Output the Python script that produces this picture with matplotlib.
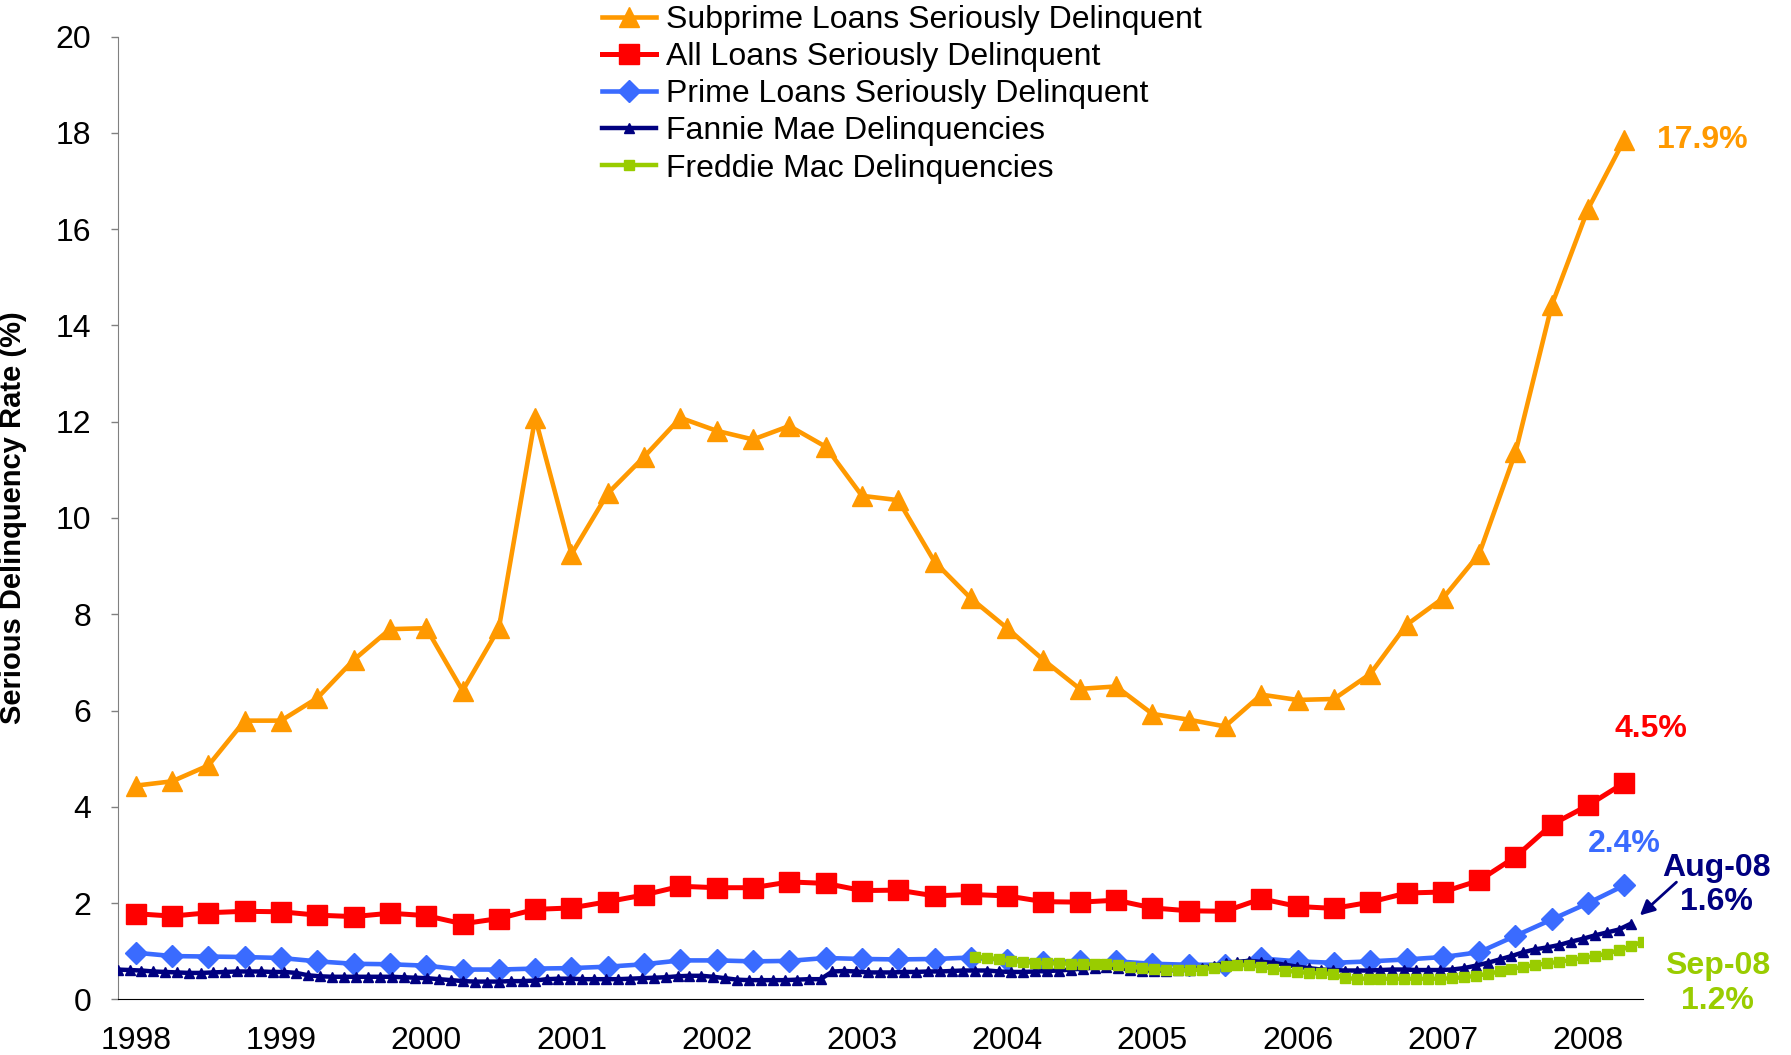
import numpy as np
import matplotlib
matplotlib.use("Agg")
import matplotlib.pyplot as plt

plt.rcParams['font.family'] = ['Liberation Sans Narrow', 'Liberation Sans', 'DejaVu Sans']

# quarterly series, 1998 Q1 .. 2008 Q2
years = list(range(1998, 2009))
subprime = [4.44, 4.53, 4.86, 5.79, 5.79, 6.26, 7.05, 7.69, 7.71, 6.41, 7.71, 12.08,
            9.25, 10.51, 11.27, 12.08, 11.81, 11.63, 11.91, 11.48, 10.46, 10.37, 9.09, 8.33,
            7.71, 7.05, 6.45, 6.50, 5.93, 5.81, 5.67, 6.33, 6.22, 6.24, 6.76, 7.78,
            8.33, 9.25, 11.36, 14.42, 16.42, 17.86]
all_loans = [1.78, 1.73, 1.80, 1.83, 1.82, 1.75, 1.72, 1.79, 1.74, 1.57, 1.68, 1.87,
             1.90, 2.03, 2.17, 2.35, 2.32, 2.32, 2.44, 2.41, 2.26, 2.27, 2.15, 2.18,
             2.15, 2.03, 2.02, 2.06, 1.90, 1.84, 1.83, 2.09, 1.93, 1.89, 2.02, 2.21,
             2.23, 2.47, 2.96, 3.63, 4.03, 4.50]
prime = [0.97, 0.90, 0.89, 0.88, 0.86, 0.79, 0.74, 0.73, 0.70, 0.62, 0.62, 0.64,
         0.65, 0.68, 0.73, 0.81, 0.81, 0.79, 0.80, 0.86, 0.84, 0.83, 0.84, 0.87,
         0.82, 0.78, 0.79, 0.79, 0.74, 0.72, 0.72, 0.85, 0.79, 0.76, 0.79, 0.83,
         0.88, 0.98, 1.32, 1.66, 2.00, 2.37]

# monthly series: Fannie Mae Jan 1998 .. Aug 2008, Freddie Mac Jan 2004 .. Sep 2008
fannie = [0.62, 0.61, 0.60, 0.58, 0.57, 0.56, 0.55, 0.55, 0.56, 0.57, 0.58, 0.58,
          0.58, 0.57, 0.57, 0.55, 0.50, 0.48, 0.47, 0.47, 0.47, 0.47, 0.47, 0.47,
          0.46, 0.45, 0.44, 0.42, 0.40, 0.38, 0.37, 0.37, 0.37, 0.38, 0.38, 0.39,
          0.42, 0.43, 0.43, 0.42, 0.42, 0.42, 0.42, 0.43, 0.44, 0.45, 0.46, 0.48,
          0.49, 0.49, 0.47, 0.44, 0.41, 0.40, 0.40, 0.40, 0.40, 0.41, 0.42, 0.42,
          0.58, 0.59, 0.58, 0.56, 0.56, 0.56, 0.57, 0.57, 0.58, 0.58, 0.59, 0.60,
          0.60, 0.60, 0.58, 0.57, 0.57, 0.58, 0.59, 0.60, 0.62, 0.64, 0.66, 0.67,
          0.65, 0.62, 0.60, 0.60, 0.60, 0.61, 0.62, 0.65, 0.70, 0.75, 0.78, 0.80,
          0.78, 0.76, 0.72, 0.68, 0.65, 0.62, 0.61, 0.60, 0.60, 0.60, 0.61, 0.62,
          0.62, 0.61, 0.61, 0.61, 0.62, 0.65, 0.70, 0.76, 0.83, 0.90, 0.98, 1.04,
          1.08, 1.13, 1.20, 1.26, 1.33, 1.39, 1.45, 1.57]
freddie = [0.89, 0.86, 0.83, 0.80, 0.78, 0.76, 0.75, 0.75, 0.74, 0.74, 0.73, 0.73,
           0.71, 0.68, 0.65, 0.63, 0.62, 0.61, 0.61, 0.62, 0.66, 0.70, 0.72, 0.71,
           0.68, 0.64, 0.60, 0.57, 0.55, 0.54, 0.53, 0.44, 0.43, 0.43, 0.43, 0.43,
           0.43, 0.43, 0.43, 0.43, 0.44, 0.46, 0.49, 0.53, 0.58, 0.63, 0.68, 0.71,
           0.75, 0.78, 0.82, 0.86, 0.90, 0.95, 1.02, 1.10, 1.20]
freddie_start = 72  # months after Jan 1998

ORANGE = '#FF9900'
RED = '#FF0000'
BLUE = '#3A6BFF'
NAVY = '#000080'
GREEN = '#99CC00'

fig = plt.figure(figsize=(17.91, 10.55), dpi=100)
ax = fig.add_axes([0.0657, 0.0527, 0.8514, 0.9127])

q = np.arange(len(subprime))
h1, = ax.plot(q, subprime, color=ORANGE, lw=3.3, marker='^', ms=14, mec=ORANGE,
              label='Subprime Loans Seriously Delinquent')
h2, = ax.plot(q, all_loans, color=RED, lw=3.6, marker='s', ms=14, mec=RED,
              label='All Loans Seriously Delinquent')
h3, = ax.plot(q, prime, color=BLUE, lw=3.3, marker='D', ms=11, mec=BLUE,
              label='Prime Loans Seriously Delinquent')

ax.set_xlim(-0.5, len(subprime) - 0.5)
ax.set_ylim(0, 20)
ax.set_yticks(range(0, 21, 2))
ax.set_xticks(q[::4])
ax.set_xticklabels([str(y) for y in years])
ax.tick_params(axis='x', length=0, pad=19, labelsize=23)
ax.tick_params(axis='y', length=5, width=1, pad=14, labelsize=23, color='#808080')
for s in ['top', 'right']:
    ax.spines[s].set_visible(False)
ax.spines['left'].set_color('#808080')
ax.spines['bottom'].set_color('black')
ax.set_ylabel('Serious Delinquency Rate (%)', fontsize=21, fontweight='bold')
ax.yaxis.set_label_coords(-0.0594, 0.5)

# secondary category axis for the monthly series
ax2 = ax.twiny()
m_fan = np.arange(len(fannie))
m_fre = np.arange(len(freddie)) + freddie_start
h4, = ax2.plot(m_fan, fannie, color=NAVY, lw=3.2, marker='^', ms=7, mec=NAVY,
               label='Fannie Mae Delinquencies')
h5, = ax2.plot(m_fre, freddie, color=GREEN, lw=3.2, marker='s', ms=7, mec=GREEN,
               label='Freddie Mac Delinquencies')
ax2.set_xlim(0, m_fre[-1])
ax2.set_xticks([])
for s in ax2.spines.values():
    s.set_visible(False)

# end labels
ax.annotate(f'{subprime[-1]:.1f}%', xy=(q[-1], subprime[-1]), xytext=(56, 0),
            textcoords='offset points', ha='center', va='center',
            color=ORANGE, fontsize=23, fontweight='bold')
ax.annotate(f'{all_loans[-1]:.1f}%', xy=(q[-1], all_loans[-1]), xytext=(19, 39),
            textcoords='offset points', ha='center', va='center',
            color=RED, fontsize=23, fontweight='bold')
ax.annotate(f'{prime[-1]:.1f}%', xy=(q[-1], prime[-1]), xytext=(0, 30),
            textcoords='offset points', ha='center', va='center',
            color=BLUE, fontsize=23, fontweight='bold')
ax2.annotate(f'Aug-08\n{fannie[-1]:.1f}%', xy=(m_fan[-1], fannie[-1]), xytext=(62, 28),
             textcoords='offset points', ha='center', va='center',
             color=NAVY, fontsize=23, fontweight='bold', multialignment='center',
             annotation_clip=False)
ax2.annotate('', xy=(m_fan[-1], fannie[-1]), xytext=(33, 30),
             textcoords='offset points', annotation_clip=False,
             arrowprops=dict(arrowstyle='-|>', color=NAVY, lw=2, mutation_scale=22,
                             shrinkA=0, shrinkB=9))
ax2.annotate(f'Sep-08\n{freddie[-1]:.1f}%', xy=(m_fre[-1], freddie[-1]), xytext=(54, -30),
             textcoords='offset points', ha='center', va='center',
             color=GREEN, fontsize=23, fontweight='bold', multialignment='center',
             annotation_clip=False)

fig.legend(handles=[h1, h2, h3, h4, h5], loc='upper left', bbox_to_anchor=(0.329, 1.007),
           frameon=False, fontsize=23, labelspacing=0.22, handlelength=1.7,
           handletextpad=0.3, borderaxespad=0)

fig.savefig('out.png', dpi=100)
